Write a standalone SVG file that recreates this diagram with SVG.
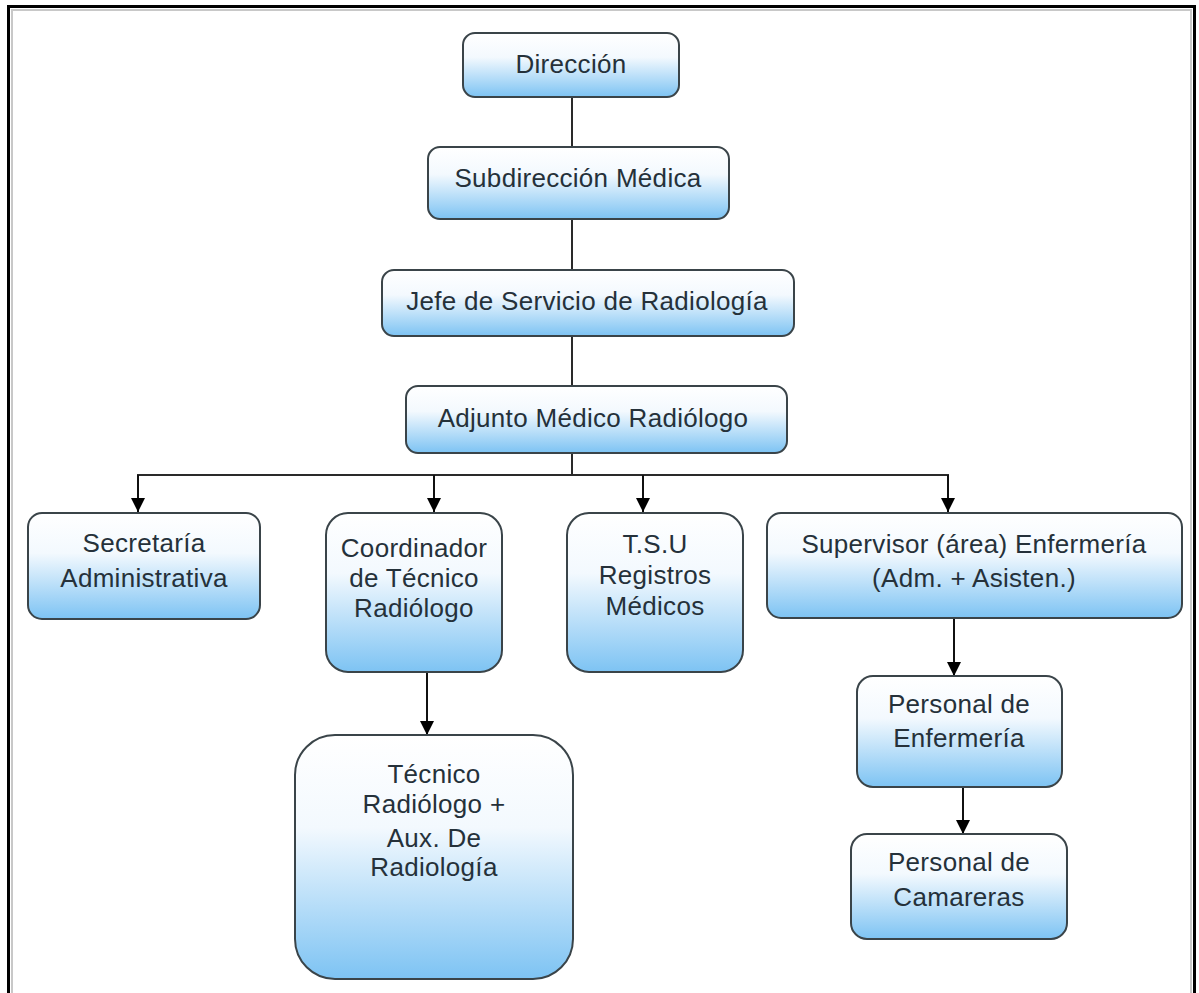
<svg xmlns="http://www.w3.org/2000/svg" width="1199" height="993" viewBox="0 0 1199 993">
  <defs>
    <linearGradient id="boxFill" x1="0" y1="0" x2="0" y2="1">
      <stop offset="0" stop-color="#ffffff"/>
      <stop offset="0.38" stop-color="#f3f9fe"/>
      <stop offset="1" stop-color="#7dc3f3"/>
    </linearGradient>
    <marker id="arrow" viewBox="0 0 14 14" refX="14" refY="7" markerWidth="14" markerHeight="14" markerUnits="userSpaceOnUse" orient="auto">
      <path d="M0,0 L14,7 L0,14 Z" fill="#000"/>
    </marker>
    <style>
      .box { fill: url(#boxFill); stroke: #3a4449; stroke-width: 2; }
      .lbl { font-family: "Liberation Sans", Arial, sans-serif; font-size: 26px; letter-spacing: 0.3px; fill: #25313a; text-anchor: middle; }
      .link { fill: none; stroke: #2a2a2a; stroke-width: 2; }
      .arr { fill: none; stroke: #111; stroke-width: 2; marker-end: url(#arrow); }
    </style>
  </defs>

  <rect width="1199" height="993" fill="#fff"/>

  <!-- page frame, open at the bottom -->
  <path d="M12 993 V10 H1191 V993" fill="none" stroke="#c8c8c8" stroke-width="2"/>
  <path d="M8.5 993 V6.5 H1194.5 V993" fill="none" stroke="#000" stroke-width="3"/>

  <g id="connectors">
    <line class="link" x1="572" y1="97" x2="572" y2="147"/>
    <line class="link" x1="572" y1="219" x2="572" y2="270"/>
    <line class="link" x1="572" y1="336" x2="572" y2="386"/>
    <line class="link" x1="572" y1="453" x2="572" y2="475"/>
    <line class="link" x1="137" y1="475" x2="949" y2="475"/>
    <line class="arr" x1="138" y1="475" x2="138" y2="512"/>
    <line class="arr" x1="434" y1="475" x2="434" y2="512"/>
    <line class="arr" x1="643" y1="475" x2="643" y2="512"/>
    <line class="arr" x1="948" y1="475" x2="948" y2="512"/>
    <line class="arr" x1="427" y1="672" x2="427" y2="735"/>
    <line class="arr" x1="954" y1="618" x2="954" y2="676"/>
    <line class="arr" x1="963" y1="787" x2="963" y2="834"/>
  </g>

  <g id="direccion">
    <rect class="box" x="463" y="33" width="216" height="64" rx="12"/>
    <text class="lbl" x="571" y="73">Dirección</text>
  </g>
  <g id="subdireccion">
    <rect class="box" x="428" y="147" width="301" height="72" rx="12"/>
    <text class="lbl" x="578" y="187">Subdirección Médica</text>
  </g>
  <g id="jefe-servicio">
    <rect class="box" x="382" y="270" width="412" height="66" rx="12"/>
    <text class="lbl" x="587" y="310">Jefe de Servicio de Radiología</text>
  </g>
  <g id="adjunto">
    <rect class="box" x="406" y="386" width="381" height="67" rx="12"/>
    <text class="lbl" x="593" y="427">Adjunto Médico Radiólogo</text>
  </g>
  <g id="secretaria">
    <rect class="box" x="28" y="513" width="232" height="106" rx="14"/>
    <text class="lbl" x="144" y="552">Secretaría</text>
    <text class="lbl" x="144" y="587">Administrativa</text>
  </g>
  <g id="coordinador">
    <rect class="box" x="326" y="513" width="176" height="159" rx="22"/>
    <text class="lbl" x="414" y="557">Coordinador</text>
    <text class="lbl" x="414" y="587">de Técnico</text>
    <text class="lbl" x="414" y="617">Radiólogo</text>
  </g>
  <g id="tsu">
    <rect class="box" x="567" y="513" width="176" height="159" rx="22"/>
    <text class="lbl" x="655" y="553">T.S.U</text>
    <text class="lbl" x="655" y="584">Registros</text>
    <text class="lbl" x="655" y="615">Médicos</text>
  </g>
  <g id="supervisor">
    <rect class="box" x="767" y="513" width="415" height="105" rx="14"/>
    <text class="lbl" x="974" y="553">Supervisor (área) Enfermería</text>
    <text class="lbl" x="974" y="587">(Adm. + Asisten.)</text>
  </g>
  <g id="tecnico">
    <rect class="box" x="295" y="735" width="278" height="244" rx="40"/>
    <text class="lbl" x="434" y="783">Técnico</text>
    <text class="lbl" x="434" y="813">Radiólogo +</text>
    <text class="lbl" x="434" y="847">Aux. De</text>
    <text class="lbl" x="434" y="876">Radiología</text>
  </g>
  <g id="personal-enfermeria">
    <rect class="box" x="857" y="676" width="205" height="111" rx="16"/>
    <text class="lbl" x="959" y="713">Personal de</text>
    <text class="lbl" x="959" y="747">Enfermería</text>
  </g>
  <g id="personal-camareras">
    <rect class="box" x="851" y="834" width="216" height="105" rx="16"/>
    <text class="lbl" x="959" y="871">Personal de</text>
    <text class="lbl" x="959" y="906">Camareras</text>
  </g>
</svg>
